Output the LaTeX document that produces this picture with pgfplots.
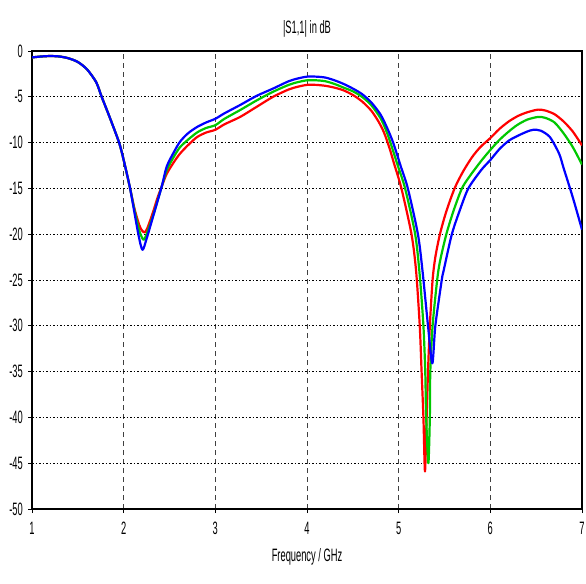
\documentclass[border=0pt]{standalone}
\usepackage{fontspec}
\setmainfont[FakeStretch=0.52]{Liberation Sans}
\usepackage{pgfplots}
\pgfplotsset{compat=1.18}

\definecolor{cstred}{RGB}{255,0,0}
\definecolor{cstgreen}{RGB}{0,200,0}
\definecolor{cstblue}{RGB}{0,0,255}

\begin{document}
\fontsize{18}{20}\selectfont
\begin{tikzpicture}
\begin{axis}[
    name=ax,
    scale only axis,
    width=550bp,
    height=458bp,
    xmin=1, xmax=7,
    ymin=-50, ymax=0,
    xtick={1,2,...,7},
    ytick={-50,-45,...,0},
    /pgf/number format/assume math mode=true,
    tick align=outside,
    xtick pos=bottom,
    ytick pos=left,
    major tick length=4bp,
    tick style={black, line width=0.8bp},
    axis line style={black, line width=1.3bp},
    xmajorgrids, ymajorgrids,
    x grid style={black!75, line width=0.8bp, dash pattern=on 5bp off 4bp},
    y grid style={black, line width=1bp, dash pattern=on 1.5bp off 2bp},
    tick label style={font=\fontsize{18}{20}\selectfont},
    xticklabel style={yshift=-3bp},
    yticklabel style={xshift=1bp},
    title={|S1,1| in dB},
    title style={yshift=2bp, font=\fontsize{18}{20}\selectfont},
    xlabel={Frequency / GHz},
    xlabel style={yshift=-1bp, font=\fontsize{18}{20}\selectfont},
    every axis plot/.append style={line width=2.2bp, line join=round, smooth, tension=0.45},
]
% red
\addplot[cstred] coordinates {
(1.0,-0.7) (1.1,-0.6) (1.2,-0.55) (1.3,-0.6) (1.4,-0.8) (1.5,-1.2) (1.6,-2.0)
(1.7,-3.4) (1.76,-5.0) (1.85,-7.3) (1.95,-10.0) (2.0,-11.9) (2.07,-15.0)
(2.12,-17.3) (2.17,-19.0) (2.2,-19.6) (2.23,-19.8) (2.26,-19.3) (2.32,-17.6)
(2.37,-16.0) (2.415,-14.8) (2.47,-13.4) (2.55,-12.1) (2.615,-11.2) (2.7,-10.3)
(2.8,-9.4) (2.9,-8.9) (3.0,-8.6) (3.1,-8.0) (3.27,-7.2) (3.45,-6.1) (3.63,-5.0)
(3.8,-4.2) (3.9,-3.9) (4.0,-3.7) (4.1,-3.7) (4.2,-3.8) (4.3,-4.0) (4.4,-4.3)
(4.5,-4.8) (4.6,-5.5) (4.7,-6.5) (4.78,-7.7) (4.84,-8.9) (4.9,-10.6) (4.95,-12.3) (5.03,-15.0)
(5.14,-20.0) (5.19,-24.0) (5.23,-30.0) (5.25,-35.0) (5.27,-40.0) (5.287,-45.9)
(5.305,-40.0) (5.32,-35.0) (5.34,-30.0) (5.37,-25.0) (5.40,-22.5) (5.45,-20.0)
(5.52,-17.5) (5.61,-15.0) (5.7,-13.2) (5.8,-11.6) (5.89,-10.5) (6.0,-9.5)
(6.1,-8.5) (6.2,-7.7) (6.3,-7.1) (6.4,-6.7) (6.52,-6.4) (6.6,-6.5) (6.7,-6.9)
(6.8,-7.7) (6.9,-8.8) (7.0,-10.3)
};
% green
\addplot[cstgreen] coordinates {
(1.0,-0.7) (1.1,-0.6) (1.2,-0.55) (1.3,-0.6) (1.4,-0.8) (1.5,-1.2) (1.6,-2.0)
(1.7,-3.4) (1.76,-5.0) (1.85,-7.3) (1.95,-10.0) (2.0,-11.9) (2.07,-15.0)
(2.12,-17.5) (2.17,-19.6) (2.215,-20.6) (2.25,-20.0) (2.32,-18.0) (2.415,-14.8)
(2.47,-13.0) (2.55,-11.5) (2.615,-10.5) (2.7,-9.7) (2.8,-8.9) (2.9,-8.4)
(3.0,-8.1) (3.1,-7.4) (3.27,-6.45) (3.45,-5.4) (3.63,-4.45) (3.8,-3.7) (3.9,-3.4)
(4.0,-3.2) (4.1,-3.2) (4.2,-3.3) (4.3,-3.6) (4.4,-4.0) (4.5,-4.4) (4.6,-5.0)
(4.7,-5.9) (4.8,-7.3) (4.86,-8.6) (4.91,-10.0) (4.99,-12.5) (5.07,-15.0) (5.18,-20.0)
(5.23,-24.5) (5.27,-30.0) (5.29,-35.0) (5.30,-40.0) (5.324,-45.0) (5.34,-40.0)
(5.345,-35.0) (5.37,-30.0) (5.42,-25.0) (5.45,-23.0) (5.52,-20.0) (5.6,-17.4)
(5.69,-15.0) (5.78,-13.6) (5.9,-12.0) (6.0,-10.8) (6.1,-9.7) (6.2,-8.8)
(6.29,-8.1) (6.4,-7.5) (6.52,-7.2) (6.6,-7.3) (6.7,-7.8) (6.8,-9.0) (6.9,-10.5)
(7.0,-12.4)
};
% blue
\addplot[cstblue] coordinates {
(1.0,-0.7) (1.1,-0.6) (1.2,-0.55) (1.3,-0.6) (1.4,-0.8) (1.5,-1.2) (1.6,-2.0)
(1.7,-3.4) (1.76,-5.0) (1.85,-7.3) (1.95,-10.0) (2.0,-11.9) (2.07,-15.0)
(2.16,-20.0) (2.205,-21.7) (2.25,-20.5) (2.32,-18.1) (2.415,-14.8) (2.47,-12.6)
(2.55,-11.0) (2.615,-9.9) (2.7,-9.0) (2.8,-8.3) (2.9,-7.8) (3.0,-7.4) (3.1,-6.8)
(3.27,-5.9) (3.45,-4.9) (3.63,-4.1) (3.8,-3.3) (3.9,-3.0) (4.0,-2.8) (4.1,-2.8)
(4.2,-2.9) (4.3,-3.2) (4.4,-3.6) (4.5,-4.1) (4.6,-4.7) (4.7,-5.6) (4.8,-6.9)
(4.87,-8.3) (4.94,-10.0) (5.02,-12.5) (5.10,-15.0) (5.21,-20.0) (5.26,-24.0)
(5.32,-30.0) (5.367,-34.1) (5.40,-30.0) (5.47,-25.0) (5.49,-24.0) (5.58,-20.0)
(5.67,-17.3) (5.76,-15.0) (5.9,-13.0) (6.0,-11.9) (6.1,-10.7) (6.2,-9.8)
(6.29,-9.3) (6.4,-8.8) (6.47,-8.6) (6.55,-8.7) (6.65,-9.4) (6.75,-11.2)
(6.8,-12.8) (6.9,-16.0) (7.0,-19.5)
};
\end{axis}
\pgfresetboundingbox
\path[use as bounding box] ([xshift=-32bp,yshift=-74bp]ax.south west) rectangle ([xshift=4bp,yshift=51bp]ax.north east);
\end{tikzpicture}
\end{document}
